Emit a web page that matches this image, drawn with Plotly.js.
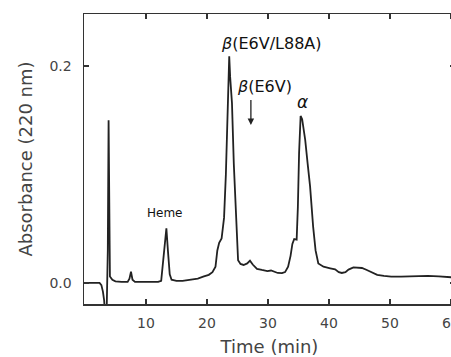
<!DOCTYPE html>
<html><head><meta charset="utf-8">
<script src="https://cdn.plot.ly/plotly-3.0.1.min.js"></script>
<style>html,body{margin:0;padding:0;overflow:hidden;background:#fff;width:451px;height:357px}</style>
</head><body><div id="chart" style="width:455px;height:357px"></div>
<script>
const timeMin = [0,2.4,2.7,2.95,3.15,3.3,3.55,3.75,3.88,3.98,4.1,4.5,5.0,6.0,7.0,7.3,7.55,7.8,8.2,10,12.0,12.5,12.9,13.35,13.6,13.9,14.2,15,16,17,17.8,18.5,19.5,20.3,20.9,21.4,21.7,22.0,22.4,22.8,23.1,23.4,23.65,23.8,24.1,24.4,24.75,25.1,25.5,26.0,26.6,27.05,27.5,28.2,29.0,29.9,30.5,31.0,31.6,32.3,32.8,33.3,33.7,34.0,34.3,34.7,34.9,35.1,35.35,35.6,36.1,36.5,36.9,37.4,37.8,38.25,39.1,40.2,41.0,41.6,42.1,42.7,43.2,44.0,45.4,46.2,47.0,47.9,49.0,50.2,51.8,53.0,54.0,56.2,58.0,60.0,60.7];
const absorbance = [0,0,-0.002,-0.008,-0.016,-0.03,-0.03,0.03,0.150,0.03,0.006,0.003,0.0015,0.001,0.001,0.004,0.0104,0.003,0.001,0.001,0.001,0.002,0.025,0.0504,0.03,0.008,0.003,0.002,0.002,0.003,0.0035,0.004,0.006,0.0075,0.010,0.015,0.03,0.037,0.041,0.06,0.10,0.17,0.209,0.19,0.166,0.11,0.058,0.021,0.0175,0.0166,0.018,0.0206,0.017,0.013,0.012,0.011,0.0115,0.0105,0.0092,0.009,0.010,0.015,0.025,0.036,0.0405,0.040,0.07,0.12,0.154,0.151,0.132,0.11,0.089,0.052,0.03,0.018,0.015,0.0135,0.0125,0.010,0.0092,0.010,0.0123,0.0144,0.0138,0.012,0.0095,0.0074,0.0065,0.0058,0.0058,0.006,0.0067,0.0065,0.006,0.0052,0.005];
const xTicks = [10,20,30,40,50,60];
const yTicks = [0.0,0.2];
const yTickLabels = ['0.0','0.2'];

const font = {family:'DejaVu Sans, sans-serif', size:14, color:'#444'};
Plotly.newPlot('chart', [{
  x: timeMin, y: absorbance, type:'scatter', mode:'lines',
  line:{color:'#222', width:1.8}, hoverinfo:'skip'
}], {
  width:455, height:357,
  margin:{l:84, r:0, t:14, b:53},
  paper_bgcolor:'#fff', plot_bgcolor:'#fff',
  showlegend:false,
  font: font,
  xaxis:{
    range:[-0.15,60.65], tickvals:xTicks, ticks:'inside', ticklen:5, tickcolor:'#333', tickwidth:1.2,
    showline:true, linecolor:'#333', linewidth:1.5, mirror:'ticks', showgrid:false, zeroline:false,
    ticklabelstandoff:6, ticklabeloverflow:'allow', tickfont:{family:'DejaVu Sans, sans-serif', size:14, color:'#444'},
    title:{text:'Time (min)', font:{family:'DejaVu Sans, sans-serif', size:18, color:'#444'}, standoff:10}
  },
  yaxis:{
    range:[-0.0194,0.248], tickvals:yTicks, ticktext:yTickLabels, ticks:'inside', ticklen:5, tickcolor:'#333', tickwidth:1.2,
    showline:true, linecolor:'#333', linewidth:1.5, mirror:'ticks', showgrid:false, zeroline:false,
    ticklabelstandoff:8, tickfont:{family:'DejaVu Sans, sans-serif', size:14, color:'#444'},
    title:{text:'Absorbance (220 nm)', font:{family:'DejaVu Sans, sans-serif', size:18, color:'#444'}, standoff:12}
  },
  annotations:[
    {x:30.5, y:0.221, xref:'x', yref:'y', text:'<i>β</i>(E6V/L88A)', showarrow:false, font:{family:'DejaVu Sans, sans-serif', size:16, color:'#111'}},
    {x:29.5, y:0.1816, xref:'x', yref:'y', text:'<i>β</i>(E6V)', showarrow:false, font:{family:'DejaVu Sans, sans-serif', size:16, color:'#111'}},
    {x:27.2, y:0.1456, ax:27.2, ay:0.170, xref:'x', yref:'y', axref:'x', ayref:'y', text:'', showarrow:true, arrowhead:2, arrowsize:1, arrowwidth:1.3, arrowcolor:'#222'},
    {x:35.7, y:0.1668, xref:'x', yref:'y', text:'<i>α</i>', showarrow:false, font:{family:'DejaVu Sans, sans-serif', size:17, color:'#111'}},
    {x:13.1, y:0.0645, xref:'x', yref:'y', text:'Heme', showarrow:false, font:{family:'DejaVu Sans, sans-serif', size:12, color:'#111'}}
  ]
}, {staticPlot:true, displayModeBar:false});
</script></body></html>
